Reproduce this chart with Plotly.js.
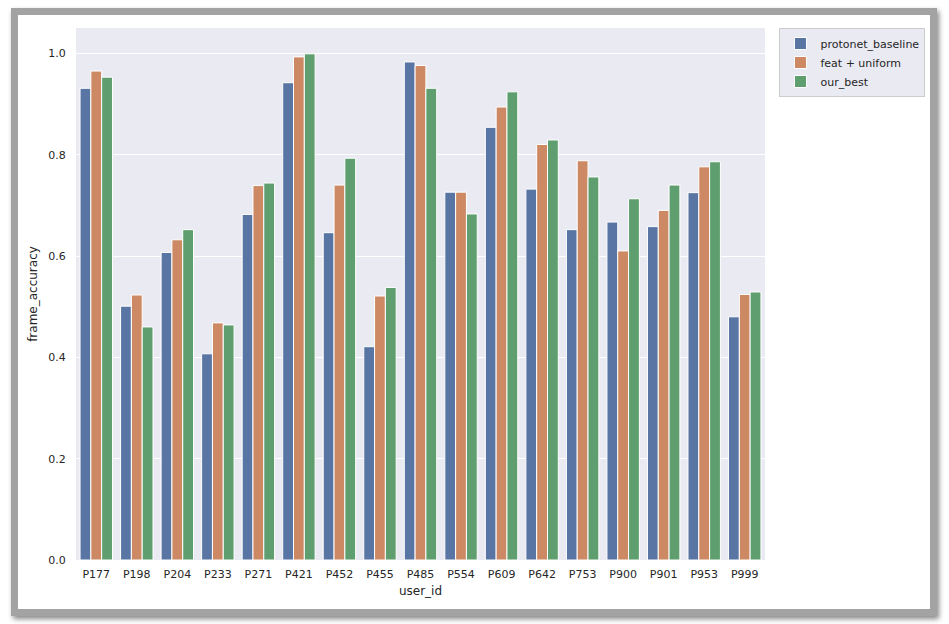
<!DOCTYPE html>
<html>
<head>
<meta charset="utf-8">
<script src="https://cdn.plot.ly/plotly-3.0.1.min.js"></script>
<style>
  html, body { margin: 0; padding: 0; background: #fff; }
  #frame {
    position: absolute; left: 11px; top: 8px;
    width: 912px; height: 594px;
    border: 7px solid #a3a3a3;
    box-shadow: 2px 3px 5px #8a8a8a;
    background: #fff;
  }
  #chart { position: absolute; left: 0; top: 0; width: 949px; height: 624px; }
</style>
</head>
<body>
<div id="frame"></div>
<div id="chart"></div>
<script>
const users = ['P177', 'P198', 'P204', 'P233', 'P271', 'P421', 'P452', 'P455', 'P485',
  'P554', 'P609', 'P642', 'P753', 'P900', 'P901', 'P953', 'P999'];

const protonetBaseline = [0.931, 0.501, 0.607, 0.407, 0.682, 0.942, 0.646, 0.421, 0.983,
  0.726, 0.854, 0.732, 0.652, 0.667, 0.658, 0.725, 0.480];
const featUniform = [0.965, 0.523, 0.632, 0.468, 0.739, 0.993, 0.740, 0.521, 0.976,
  0.726, 0.894, 0.820, 0.788, 0.610, 0.690, 0.776, 0.524];
const ourBest = [0.953, 0.460, 0.652, 0.464, 0.744, 0.999, 0.793, 0.538, 0.931,
  0.683, 0.924, 0.829, 0.756, 0.713, 0.740, 0.786, 0.529];

const seriesNames = ['protonet_baseline', 'feat + uniform', 'our_best'];
const seriesColors = ['#5975a4', '#cc8963', '#5f9e6e'];
const yTicks = [0, 0.2, 0.4, 0.6, 0.8, 1.0];

const textColor = '#262626';

const traces = [protonetBaseline, featUniform, ourBest].map((vals, i) => ({
  type: 'bar',
  x: users,
  y: vals,
  name: seriesNames[i],
  marker: {
    color: seriesColors[i],
    line: { color: '#ffffff', width: 1 }
  },
  hovertemplate: '%{x}: %{y}<extra>' + seriesNames[i] + '</extra>'
}));

Plotly.newPlot('chart', traces, {
  width: 949,
  height: 624,
  paper_bgcolor: 'rgba(0,0,0,0)',
  plot_bgcolor: '#eaeaf2',
  barmode: 'group',
  bargap: 0.2,
  bargroupgap: 0,
  margin: { l: 76, r: 184, t: 28, b: 64 },
  font: { family: 'DejaVu Sans', size: 11, color: textColor },
  xaxis: {
    type: 'category',
    range: [-0.5, 16.5],
    showgrid: false,
    zeroline: false,
    showline: false,
    ticks: 'outside',
    ticklen: 4,
    tickcolor: 'rgba(0,0,0,0)',
    tickfont: { size: 11, color: textColor },
    title: { text: 'user_id', font: { size: 12, color: textColor }, standoff: 6 }
  },
  yaxis: {
    range: [0, 1.05],
    tickvals: yTicks,
    tickformat: '.1f',
    showgrid: true,
    gridcolor: '#ffffff',
    gridwidth: 1,
    zeroline: false,
    showline: false,
    ticks: 'outside',
    ticklen: 7,
    tickcolor: 'rgba(0,0,0,0)',
    tickfont: { size: 11, color: textColor },
    title: { text: 'frame_accuracy', font: { size: 12, color: textColor }, standoff: 8 }
  },
  legend: {
    x: 1.021,
    xanchor: 'left',
    y: 1.0,
    yanchor: 'top',
    bgcolor: '#eaeaf2',
    bordercolor: '#cccccc',
    borderwidth: 1,
    font: { size: 11, color: textColor },
    tracegroupgap: 0
  },
  showlegend: true
}, { displayModeBar: false, staticPlot: true });
</script>
</body>
</html>
